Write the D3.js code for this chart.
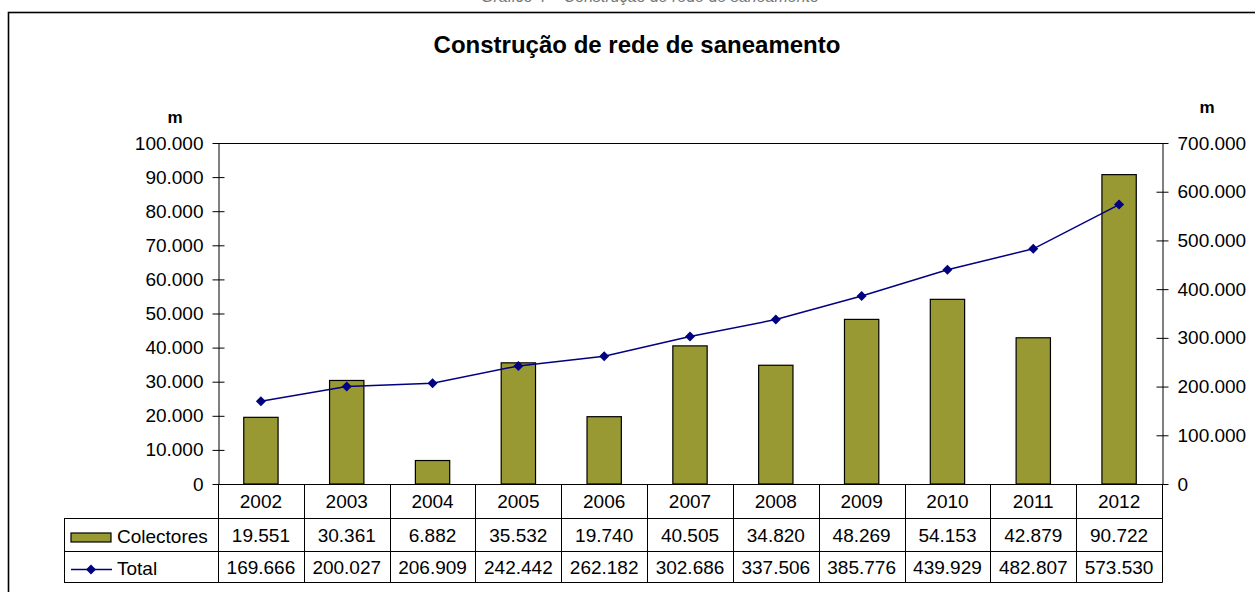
<!DOCTYPE html>
<html>
<head>
<meta charset="utf-8">
<script src="https://cdn.jsdelivr.net/npm/d3@7"></script>
<style>
  body { margin: 0; background: #fff; }
  svg { display: block; font-family: "Liberation Sans", Arial, sans-serif; }
</style>
</head>
<body>
<div id="chart"></div>
<script>
// data
var years = ["2002", "2003", "2004", "2005", "2006", "2007", "2008", "2009", "2010", "2011", "2012"];
var colectores = [19551, 30361, 6882, 35532, 19740, 40505, 34820, 48269, 54153, 42879, 90722];
var total = [169666, 200027, 206909, 242442, 262182, 302686, 337506, 385776, 439929, 482807, 573530];
var leftTicks = [0, 10000, 20000, 30000, 40000, 50000, 60000, 70000, 80000, 90000, 100000];
var rightTicks = [0, 100000, 200000, 300000, 400000, 500000, 600000, 700000];

var W = 1255, H = 592;
var plot = {left: 218, right: 1162, top: 143, bottom: 484};
var rowY = [484, 518, 551, 582];
var tableLeft = 64;
var barColor = "#999933", lineColor = "#000080";

var pt = d3.formatLocale({decimal: ",", thousands: ".", grouping: [3], currency: ["", ""]});
var fmt = pt.format(",d");

var svg = d3.select("#chart")
  .append("svg")
    .attr("width", W)
    .attr("height", H);

// caption above the frame, mostly cut off by the page edge (as in the source)
svg.append("text")
  .attr("x", 650).attr("y", 2)
  .attr("text-anchor", "middle")
  .style("font-size", "16px")
  .style("font-style", "italic")
  .style("fill", "#777")
  .text("Gráfico 4 – Construção de rede de saneamento");

// outer frame
svg.append("rect")
  .attr("x", 8.5).attr("y", 12.5)
  .attr("width", W + 20).attr("height", H + 20)
  .attr("fill", "none")
  .attr("stroke", "#000")
  .attr("stroke-width", 1.6);

svg.append("text")
  .attr("x", 637).attr("y", 53)
  .attr("text-anchor", "middle")
  .style("font-size", "24px")
  .style("font-weight", "bold")
  .text("Construção de rede de saneamento");

svg.append("text")
  .attr("x", 175).attr("y", 123)
  .attr("text-anchor", "middle")
  .style("font-size", "17px")
  .style("font-weight", "bold")
  .text("m");
svg.append("text")
  .attr("x", 1207).attr("y", 113)
  .attr("text-anchor", "middle")
  .style("font-size", "17px")
  .style("font-weight", "bold")
  .text("m");

// scales
var x = d3.scaleBand()
  .domain(years)
  .range([plot.left, plot.right])
  .paddingInner(0).paddingOuter(0);

var yL = d3.scaleLinear()
  .domain([0, 100000])
  .range([plot.bottom, plot.top]);

var yR = d3.scaleLinear()
  .domain([0, 700000])
  .range([plot.bottom, plot.top]);

// top border of plot area
svg.append("line")
  .attr("x1", plot.left).attr("x2", plot.right)
  .attr("y1", plot.top + 0.5).attr("y2", plot.top + 0.5)
  .attr("stroke", "#000");

// bars
var bw = x.bandwidth() * 0.4;
svg.append("g")
  .selectAll("rect")
  .data(colectores)
  .enter()
  .append("rect")
    .attr("x", function(d, i) { return x(years[i]) + (x.bandwidth() - bw) / 2; })
    .attr("y", function(d) { return yL(d); })
    .attr("width", bw)
    .attr("height", function(d) { return yL(0) - yL(d); })
    .attr("fill", barColor)
    .attr("stroke", "#000")
    .attr("stroke-width", 1.2);

// axes
var axL = svg.append("g")
  .attr("transform", "translate(" + (plot.left + 0.5) + ",0)")
  .call(d3.axisLeft(yL).tickValues(leftTicks).tickFormat(fmt).tickSizeInner(6).tickSizeOuter(0).tickPadding(9));
var axR = svg.append("g")
  .attr("transform", "translate(" + (plot.right + 0.5) + ",0)")
  .call(d3.axisRight(yR).tickValues(rightTicks).tickFormat(fmt).tickSizeInner(6).tickSizeOuter(0).tickPadding(9));

[axL, axR].forEach(function(ax) {
  ax.select(".domain").attr("stroke", "#000");
  ax.selectAll(".tick line").attr("stroke", "#000");
  ax.selectAll("text")
    .style("font-size", "19px")
    .style("font-family", "'Liberation Sans', Arial, sans-serif")
    .attr("fill", "#000");
});
axL.selectAll(".tick line").attr("x1", 6);
axR.selectAll(".tick line").attr("x1", -6);

// line
var line = d3.line()
  .x(function(d, i) { return x(years[i]) + x.bandwidth() / 2; })
  .y(function(d) { return yR(d); });

svg.append("path")
  .datum(total)
  .attr("d", line)
  .attr("fill", "none")
  .attr("stroke", lineColor)
  .attr("stroke-width", 1.5);

var diamond = d3.symbol().type(d3.symbolDiamond2).size(64);
svg.append("g")
  .selectAll("path")
  .data(total)
  .enter()
  .append("path")
    .attr("d", diamond)
    .attr("transform", function(d, i) {
      return "translate(" + (x(years[i]) + x.bandwidth() / 2) + "," + yR(d) + ")";
    })
    .attr("fill", lineColor);

// data table
var table = svg.append("g");
table.append("line")
  .attr("x1", plot.left).attr("x2", plot.right)
  .attr("y1", rowY[0] + 0.5).attr("y2", rowY[0] + 0.5)
  .attr("stroke", "#000");
[rowY[1], rowY[2], rowY[3]].forEach(function(y) {
  table.append("line")
    .attr("x1", tableLeft).attr("x2", plot.right + 0.5)
    .attr("y1", y + 0.5).attr("y2", y + 0.5)
    .attr("stroke", "#000");
});
table.append("line")
  .attr("x1", tableLeft + 0.5).attr("x2", tableLeft + 0.5)
  .attr("y1", rowY[1]).attr("y2", rowY[3] + 0.5)
  .attr("stroke", "#000");
x.domain().concat(["end"]).forEach(function(yr, i) {
  var xx = i < years.length ? x(yr) : plot.right;
  table.append("line")
    .attr("x1", Math.round(xx) + 0.5).attr("x2", Math.round(xx) + 0.5)
    .attr("y1", rowY[0]).attr("y2", rowY[3] + 0.5)
    .attr("stroke", "#000");
});

var rows = [years, colectores.map(fmt), total.map(fmt)];
rows.forEach(function(vals, r) {
  table.append("g")
    .selectAll("text")
    .data(vals)
    .enter()
    .append("text")
      .attr("x", function(d, i) { return x(years[i]) + x.bandwidth() / 2; })
      .attr("y", (rowY[r] + rowY[r + 1]) / 2 + 7)
      .attr("text-anchor", "middle")
      .style("font-size", "19px")
      .text(function(d) { return d; });
});

// legend keys in the table
table.append("rect")
  .attr("x", 71).attr("y", 533)
  .attr("width", 40).attr("height", 9)
  .attr("fill", barColor)
  .attr("stroke", "#000")
  .attr("stroke-width", 1.2);
table.append("text")
  .attr("x", 117).attr("y", 543)
  .style("font-size", "19px")
  .text("Colectores");
table.append("line")
  .attr("x1", 71).attr("x2", 112)
  .attr("y1", 569.5).attr("y2", 569.5)
  .attr("stroke", lineColor)
  .attr("stroke-width", 1.5);
table.append("path")
  .attr("d", diamond)
  .attr("transform", "translate(91,569.5)")
  .attr("fill", lineColor);
table.append("text")
  .attr("x", 117).attr("y", 575)
  .style("font-size", "19px")
  .text("Total");
</script>
</body>
</html>
